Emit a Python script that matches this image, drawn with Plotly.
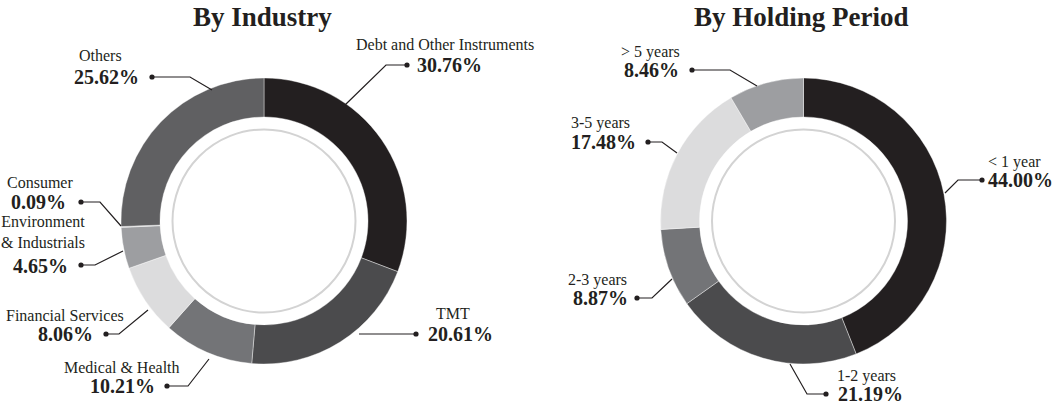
import plotly.graph_objects as go

W, H = 1054, 404

# ---- data ----
industry_labels = ["Debt and Other Instruments", "TMT", "Medical & Health", "Financial Services",
                   "Environment<br>& Industrials", "Consumer", "Others"]
industry_values = [30.76, 20.61, 10.21, 8.06, 4.65, 0.09, 25.62]
industry_colors = ["#231f20", "#4b4b4d", "#737477", "#dcdcdd", "#9d9ea1", "#bdbdbf", "#606062"]

period_labels = ["< 1 year", "1-2 years", "2-3 years", "3-5 years", "> 5 years"]
period_values = [44.00, 21.19, 8.87, 17.48, 8.46]
period_colors = ["#231f20", "#4b4b4d", "#737477", "#dcdcdd", "#9d9ea1"]

titles = ["By Industry", "By Holding Period"]

# ---- layout (pixel positions) ----
R = 143
HOLE = 104 / 143
centers = [(264, 221), (803.5, 221)]
INNER_R = 91.5

# per label: name center, value center, dot, elbow, ring end
industry_callouts = [
    ((445, 45), (449, 65), (407, 65), (386, 65), (345, 105)),
    ((453, 313), (460, 334), (416, 334), (416, 334), (359, 334)),
    ((122, 367), (122, 386), (167, 386), (188, 386), (209, 359)),
    ((65, 315), (65, 334), (106, 334), (119, 334), (148, 310)),
    ((43, 232), (40, 266), (81, 265), (95, 265), (123, 251)),
    ((40, 183), (38, 202), (81, 202), (100, 202), (121, 226)),
    ((100, 55), (106, 77), (152, 77), (190, 77), (212, 90)),
]
period_callouts = [
    ((1014, 162), (1020, 180), (982, 180), (958, 180), (945, 193)),
    ((866, 376), (870, 394), (826, 394), (807, 394), (790, 364)),
    ((597, 280), (600, 298), (637, 298), (652, 298), (672, 279)),
    ((600, 123), (603, 142), (648, 142), (662, 142), (677, 153)),
    ((650, 52), (651, 70), (692, 70), (730, 70), (757, 86)),
]

FONT = "Liberation Serif, Times New Roman, serif"
INK = "#231f20"


def px(x):
    return x / W


def py(y):
    return 1 - y / H


fig = go.Figure()
for (labels, values, colors), (cx, cy) in zip(
        [(industry_labels, industry_values, industry_colors),
         (period_labels, period_values, period_colors)], centers):
    fig.add_trace(go.Pie(
        labels=labels, values=values, sort=False, direction="clockwise", rotation=0,
        hole=HOLE, textinfo="none", hoverinfo="label+percent", showlegend=False,
        marker=dict(colors=colors, line=dict(color="#ffffff", width=0.4)),
        domain=dict(x=[px(cx - R), px(cx + R)], y=[py(cy + R), py(cy - R)]),
    ))

shapes = []
annotations = []

for (cx, cy), t in zip(centers, titles):
    shapes.append(dict(type="circle", xref="paper", yref="paper",
                       x0=px(cx - INNER_R), x1=px(cx + INNER_R),
                       y0=py(cy + INNER_R), y1=py(cy - INNER_R),
                       line=dict(color="#d3d3d3", width=2), fillcolor="rgba(0,0,0,0)"))
    annotations.append(dict(text="<b>%s</b>" % t, x=px(cx - 2), y=py(17), xref="paper", yref="paper",
                            xanchor="center", yanchor="middle", showarrow=False,
                            font=dict(family=FONT, size=27, color=INK)))

for labels, values, callouts in [(industry_labels, industry_values, industry_callouts),
                                 (period_labels, period_values, period_callouts)]:
    for lab, val, (nm, vl, dot, elb, end) in zip(labels, values, callouts):
        annotations.append(dict(text=lab, x=px(nm[0]), y=py(nm[1]), xref="paper", yref="paper",
                                xanchor="center", yanchor="middle", showarrow=False,
                                font=dict(family=FONT, size=16, color=INK)))
        annotations.append(dict(text="<b>%.2f%%</b>" % val, x=px(vl[0]), y=py(vl[1]),
                                xref="paper", yref="paper", xanchor="center", yanchor="middle",
                                showarrow=False, font=dict(family=FONT, size=20, color=INK)))
        path = "M %f,%f L %f,%f L %f,%f" % (px(dot[0]), py(dot[1]), px(elb[0]), py(elb[1]),
                                             px(end[0]), py(end[1]))
        shapes.append(dict(type="path", xref="paper", yref="paper", path=path,
                           line=dict(color=INK, width=1.2)))
        r = 2.6
        shapes.append(dict(type="circle", xref="paper", yref="paper",
                           x0=px(dot[0] - r), x1=px(dot[0] + r), y0=py(dot[1] + r), y1=py(dot[1] - r),
                           fillcolor=INK, line=dict(color=INK, width=0)))

fig.update_layout(width=W, height=H, margin=dict(l=0, r=0, t=0, b=0),
                  paper_bgcolor="#ffffff", plot_bgcolor="#ffffff",
                  shapes=shapes, annotations=annotations)

fig.write_html("out.html", config={"displayModeBar": False},
               post_script="document.body.style.margin='0px';document.body.style.overflow='hidden';")
